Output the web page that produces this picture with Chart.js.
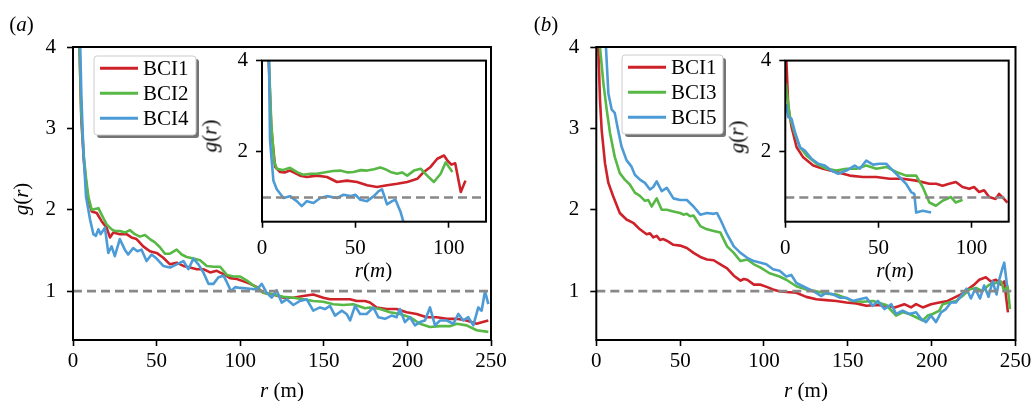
<!DOCTYPE html>
<html><head><meta charset="utf-8">
<script src="https://cdn.jsdelivr.net/npm/chart.js@4.4.1/dist/chart.umd.min.js"></script>
<style>
html,body{margin:0;padding:0;background:#fff;}
#wrap{position:relative;width:1036px;height:401px;overflow:hidden;background:#fff;font-family:'Liberation Serif','Times New Roman',serif;color:#000;}
canvas{position:absolute;}
.lbl{position:absolute;font-size:21px;line-height:1;white-space:nowrap;transform:translate(-50%,-50%);pointer-events:none;}
.rot{transform:translate(-50%,-50%) rotate(-90deg);}
</style></head><body>
<div id="wrap">
<canvas id="cA" width="518" height="401" style="left:0;top:0;width:518px;height:401px"></canvas>
<canvas id="cB" width="518" height="401" style="left:518px;top:0;width:518px;height:401px"></canvas>
<canvas id="iA" width="300" height="250" style="left:200px;top:40px;width:300px;height:250px"></canvas>
<canvas id="iB" width="310" height="250" style="left:720px;top:40px;width:310px;height:250px"></canvas>
<div class="lbl" style="left:21.5px;top:24px">(<i>a</i>)</div>
<div class="lbl" style="left:546px;top:24px">(<i>b</i>)</div>
<div class="lbl rot" style="left:20.5px;top:199px"><i>g</i>(<i>r</i>)</div>
<div class="lbl" style="left:282px;top:390px"><i>r</i> (m)</div>
<div class="lbl" style="left:806px;top:390px"><i>r</i> (m)</div>
<div class="lbl rot" style="left:210px;top:136px"><i>g</i>(<i>r</i>)</div>
<div class="lbl rot" style="left:737px;top:137px"><i>g</i>(<i>r</i>)</div>
<div class="lbl" style="left:373.5px;top:270px"><i>r</i>(<i>m</i>)</div>
<div class="lbl" style="left:895px;top:270px"><i>r</i>(<i>m</i>)</div>
</div>
<script>
// ---------------- DATA ----------------
const MAIN_X_TICKS = [0, 50, 100, 150, 200, 250];
const MAIN_Y_TICKS = [1, 2, 3, 4];
const INSET_X_TICKS = [0, 50, 100];
const INSET_Y_TICKS = [2, 4];

// Panel (a) main
const A_BCI1_r = [2,3.5,5,6.5,8,9.2,11.2,14.2,17.1,20.1,22.1,24.1,28,32,35,38,42,46,50,54,58,62,66,70,74,78,82,86,90,94,98,102,106,110,113.8,119.8,125.8,131.8,137.7,143.7,149.7,153.7,159.7,165.7,169.7,174.6,177.6,181.6,187.6,193.5,199.5,205.5,211.5,217.5,223.5,229.5,235.4,241.4,245,248.4];
const A_BCI1_g = [8,4.3,3.1,2.6,2.3,2.12,1.98,1.96,1.86,1.78,1.66,1.72,1.70,1.70,1.66,1.64,1.55,1.49,1.47,1.41,1.33,1.35,1.31,1.29,1.27,1.27,1.23,1.25,1.21,1.16,1.15,1.12,1.09,1.05,0.98,0.96,0.92,0.92,0.94,0.96,0.92,0.90,0.90,0.90,0.88,0.88,0.86,0.80,0.78,0.78,0.74,0.72,0.68,0.68,0.66,0.66,0.64,0.60,0.62,0.64];
const A_BCI2_r = [2,3.5,5,6.5,8,9.2,11.2,13.2,15.2,17.1,20.1,23.1,25,28,31,34,37,40,43,46,49,52,55,58,62,65,68,72,76,80,84,88,92,96,100,104,108,113.8,119.8,125.8,131.8,137.7,143.7,149.7,155.7,161.7,167.7,174.6,177.6,183.6,189.6,195.5,201.5,207.5,213.5,219.5,225.4,229.5,235.4,241.4,248.4];
const A_BCI2_g = [8,4.3,3.15,2.65,2.35,2.16,2.0,2.01,2.02,1.94,1.82,1.76,1.74,1.74,1.72,1.75,1.70,1.67,1.69,1.64,1.60,1.54,1.46,1.46,1.51,1.45,1.42,1.40,1.38,1.31,1.30,1.30,1.20,1.18,1.18,1.13,1.07,0.98,0.96,0.93,0.92,0.90,0.88,0.87,0.84,0.83,0.84,0.79,0.80,0.78,0.74,0.72,0.68,0.60,0.56,0.57,0.57,0.60,0.58,0.52,0.50];
const A_BCI4_r = [2.5,4,5,6.2,7.8,10.2,12.2,13.7,15.2,16.5,19.1,21.1,23.1,25,28,31,33,36,38.5,41,44,47,50,54,58,62,66,69,72,75,78,81,84,87,90,92,94.5,97,99.9,105.9,109.9,112.9,115.9,118.8,121.8,124.8,127.8,131.8,135.8,139.8,143.7,147.7,150.7,153.7,156.7,160.7,163.6,165.7,168.7,171.7,175.6,179.6,182.6,186.6,190.6,193.5,195.5,198.5,201.5,204.5,207.5,210.5,213.5,216.5,219.5,223.5,227.5,230.5,233.4,236.4,239.4,242.4,244.4,246.4,248.4];
const A_BCI4_g = [8,4.3,3.4,2.73,2.16,1.88,1.70,1.68,1.76,1.70,1.78,1.47,1.55,1.43,1.64,1.51,1.45,1.53,1.49,1.51,1.37,1.45,1.40,1.31,1.29,1.33,1.37,1.27,1.40,1.33,1.23,1.09,1.09,1.17,1.19,1.11,1.0,1.05,1.04,1.03,1.02,1.09,0.98,0.92,1.01,0.86,0.90,0.83,0.88,0.90,0.76,0.80,0.78,0.82,0.70,0.76,0.72,0.64,0.82,0.72,0.72,0.80,0.68,0.66,0.70,0.68,0.78,0.62,0.68,0.58,0.62,0.64,0.80,0.58,0.64,0.64,0.60,0.72,0.64,0.68,0.58,0.80,0.76,1.0,0.84];

// Panel (a) inset
const IA_BCI1_r = [2,3.4,5,7,9.7,12,15,18,20.4,24,29.4,34.8,40.2,45.5,50.9,56.3,61.6,67,72.4,77.8,83.2,86.7,90.3,93.9,97.5,99.5,101.5,103.5,106.5,109];
const IA_BCI1_g = [8,4.2,2.5,1.67,1.56,1.55,1.59,1.53,1.48,1.45,1.48,1.45,1.34,1.37,1.34,1.27,1.23,1.27,1.30,1.34,1.41,1.56,1.67,1.85,1.92,1.80,1.72,1.75,1.12,1.37];
const IA_BCI2_r = [2,3.5,5,6.5,7.9,11,15,19,22,26,29.4,34.8,38,41.9,46,49,53,56.3,60,63.4,66,68.8,72.4,75,77.8,81.4,85,88.5,92.1,95.7,98.4,102];
const IA_BCI2_g = [8,4.2,2.6,1.8,1.63,1.6,1.65,1.55,1.50,1.52,1.52,1.56,1.58,1.59,1.55,1.56,1.60,1.59,1.62,1.66,1.62,1.56,1.52,1.55,1.48,1.59,1.63,1.48,1.34,1.52,1.77,1.56];
const IA_BCI4_r = [2.5,4.3,6.1,7.9,11.5,15,18.6,21.3,24,27.6,31.2,34.8,40.2,43.7,47.3,50,52.7,56.3,59.9,62.5,64.3,67,69.7,71.5,74.2,76];
const IA_BCI4_g = [8,2.25,1.37,1.18,0.99,1.03,0.92,0.81,0.92,0.88,0.99,1.03,0.99,1.06,1.03,1.06,0.95,0.92,1.03,1.14,1.18,0.85,0.92,0.95,0.69,0.43];

// Panel (b) main
const B_BCI1_r = [0.5,1.2,2.2,3.2,5.2,7.2,10,14,18,22,26,30,32,34,36,38,40,42,46,50,54,58,62,66,70,74,78,82,86,88,90,94,98,102,105.4,109,113.3,119.3,125.2,131.2,137.1,143.1,149.1,155,161,167,173,178,183.7,187.7,190.7,194.7,199.6,204.6,209.5,213.5,217.5,221.4,225.4,228.4,232.3,235.3,238.3,241.3,243.3,245.5];
const B_BCI1_g = [6,4.0,3.35,2.98,2.57,2.33,2.17,1.96,1.88,1.84,1.76,1.70,1.71,1.66,1.68,1.63,1.64,1.62,1.57,1.56,1.53,1.47,1.42,1.39,1.38,1.33,1.28,1.19,1.13,1.15,1.14,1.08,1.08,1.05,1.02,1.0,0.99,0.98,0.93,0.90,0.89,0.88,0.86,0.85,0.82,0.83,0.82,0.80,0.84,0.80,0.84,0.80,0.84,0.86,0.88,0.92,0.96,1.02,1.08,1.14,1.17,1.12,1.14,1.08,1.12,0.74];
const B_BCI3_r = [1,2.2,4.2,6.2,8.2,11,14,17,20,23,26,29,31,33,36,39,42,46,50,52,54,56,58,62,66,70,74,78,82,86,90,94,98,103.3,109.3,113.3,119.3,125.2,131.2,137.1,143.1,147.1,153,159,165,172.9,178.8,182.7,186.7,190.7,194.7,197.6,200.6,204.6,206.6,210.5,214.5,218.4,222.4,226.4,230.3,234.3,238.3,241.3,243.3,245.3,246.7];
const B_BCI3_g = [6,4.0,3.56,3.23,2.94,2.65,2.45,2.37,2.31,2.21,2.17,2.11,2.12,2.04,2.14,2.0,2.0,1.98,1.96,1.94,1.95,1.92,1.93,1.80,1.76,1.74,1.72,1.55,1.47,1.37,1.39,1.33,1.29,1.22,1.18,1.14,1.06,1.02,1.0,0.97,0.96,0.93,0.88,0.87,0.88,0.83,0.70,0.74,0.72,0.68,0.64,0.70,0.72,0.76,0.84,0.86,0.88,0.94,1.02,1.04,1.0,1.08,1.10,1.12,1.0,1.06,0.78];
const B_BCI5_r = [4,5.5,7.2,9.2,11,13,15,18,21,23,26,29,32,34,36,39,42,46,50,54,58,62,66,70,72,74,78,82,86,90,94,98,101.4,105.4,109.3,113.3,116.3,119.3,123.2,127.2,131.2,134.2,137.1,141.1,145.1,149.1,153,157,161,164.9,167.9,171.9,175.9,178.8,182.7,186.7,190.7,193.7,196.6,199.6,202.6,205.6,208.5,211.5,214.5,217.5,220.8,223.4,226,228.8,231.3,233.9,236.3,238.7,240.3,242.3,243.3,245];
const B_BCI5_g = [6,4.1,3.43,3.23,3.19,2.98,2.78,2.61,2.53,2.43,2.37,2.33,2.25,2.28,2.35,2.23,2.27,2.14,2.12,2.12,2.04,1.94,1.96,1.95,1.96,1.88,1.70,1.55,1.47,1.41,1.37,1.35,1.33,1.27,1.25,1.18,1.2,1.10,1.06,1.02,0.98,0.94,0.98,0.96,0.92,0.92,0.88,0.90,0.92,0.82,0.88,0.78,0.84,0.72,0.76,0.72,0.74,0.66,0.62,0.70,0.62,0.74,0.78,0.86,0.86,0.94,1.03,0.91,1.03,0.91,1.07,0.93,1.12,0.96,1.14,1.29,1.35,1.06];

// Panel (b) inset
const IB_BCI1_r = [0.2,1.6,3.4,6.1,9.6,15,20.3,27.5,34.6,41.7,48.9,56,63.1,70.3,77.4,81,84.5,88,91.6,95.2,98.8,101.4,104.1,106.8,109.5,113,114.8,117.5,119.3];
const IB_BCI1_g = [4.4,2.98,2.54,2.10,1.88,1.70,1.63,1.56,1.48,1.45,1.45,1.41,1.41,1.37,1.30,1.30,1.26,1.30,1.34,1.23,1.19,1.23,1.12,1.16,1.01,0.97,1.08,0.97,0.89];
const IB_BCI3_r = [0.3,0.7,2.5,5.2,7.9,11.4,16.8,22.1,27.5,32.8,38.2,43.5,48.9,54.2,59.6,64.9,70.3,73.8,77.4,80.9,84.5,89,91.6,95.2];
const IB_BCI3_g = [3.5,3.34,2.76,2.39,2.10,1.92,1.74,1.63,1.59,1.63,1.63,1.70,1.63,1.67,1.56,1.48,1.48,1.23,0.89,0.82,0.93,1.01,0.89,0.95];
const IB_BCI5_r = [0.4,1.6,3.4,5.2,7.9,10.5,14.1,17.7,21.2,24.8,28.4,32.8,37.3,40,43.5,47.1,50.6,54.2,57.8,61.3,64.9,67.6,69.3,70.3,73.8,78.3];
const IB_BCI5_g = [3.05,2.76,2.72,2.43,2.10,2.03,1.85,1.74,1.70,1.59,1.52,1.59,1.70,1.63,1.81,1.72,1.74,1.74,1.59,1.45,1.30,1.12,1.08,0.67,0.71,0.67];

// ---------------- STYLE / HELPERS ----------------
const FONT = "'Liberation Serif', 'Times New Roman', serif";
const FSIZE = 21;
Chart.defaults.font.family = FONT;
Chart.defaults.font.size = FSIZE;
Chart.defaults.color = '#000';
const RED = '#cd2229', GREEN = '#57b846', BLUE = '#4c9bd6';
const LW = 2.6;

const pts = (r, g) => r.slice(0, Math.min(r.length, g.length)).map((x, i) => ({x: x, y: g[i]}));
function series(label, r, g, color, order) {
  return {label, data: pts(r, g), borderColor: color, backgroundColor: color, borderWidth: LW,
          pointRadius: 0, fill: false, tension: 0, clip: 0, order, borderJoinStyle: 'round'};
}
function refLine(xmax) {
  return {label: 'ref', data: [{x: 0, y: 1}, {x: xmax, y: 1}], borderColor: '#888888', borderWidth: 2.6,
          borderDash: [9, 5], pointRadius: 0, clip: 0, order: 0, legendHide: true};
}
function axis(min, max, ticks, fit, pad, tickLen) {
  return {
    type: 'linear', min, max,
    afterBuildTicks: a => { a.ticks = ticks.map(v => ({value: v})); },
    afterFit: fit,
    ticks: {autoSkip: false, maxRotation: 0, padding: pad, color: '#000', font: {family: FONT, size: FSIZE},
            callback: v => String(v)},
    grid: {display: true, drawOnChartArea: false, drawTicks: true, tickLength: tickLen, tickWidth: 1.6,
           tickColor: '#000', color: '#000'},
    border: {display: false}
  };
}
function roundRect(ctx, x, y, w, h, r) {
  ctx.beginPath();
  ctx.moveTo(x + r, y); ctx.lineTo(x + w - r, y); ctx.quadraticCurveTo(x + w, y, x + w, y + r);
  ctx.lineTo(x + w, y + h - r); ctx.quadraticCurveTo(x + w, y + h, x + w - r, y + h);
  ctx.lineTo(x + r, y + h); ctx.quadraticCurveTo(x, y + h, x, y + h - r);
  ctx.lineTo(x, y + r); ctx.quadraticCurveTo(x, y, x + r, y); ctx.closePath();
}
const framePlugin = {
  id: 'frame',
  beforeDraw(chart, args, o) {
    if (o && o.fill) {
      const a = chart.chartArea, ctx = chart.ctx;
      ctx.save(); ctx.fillStyle = '#fff'; ctx.fillRect(a.left, a.top, a.right - a.left, a.bottom - a.top); ctx.restore();
    }
  },
  afterDatasetsDraw(chart) {
    const a = chart.chartArea, ctx = chart.ctx;
    ctx.save(); ctx.strokeStyle = '#000'; ctx.lineWidth = 2;
    ctx.strokeRect(a.left, a.top, a.right - a.left, a.bottom - a.top); ctx.restore();
  }
};
const boxLegend = {
  id: 'boxLegend',
  afterDraw(chart, args, o) {
    if (!o || !o.show) return;
    const ctx = chart.ctx, a = chart.chartArea;
    const x = a.left + o.dx, y = a.top + o.dy, w = o.w, h = o.h;
    ctx.save();
    ctx.fillStyle = 'rgba(0,0,0,0.55)'; roundRect(ctx, x + 3, y + 3, w, h, 3); ctx.fill();
    ctx.fillStyle = '#fff'; roundRect(ctx, x, y, w, h, 3); ctx.fill();
    ctx.strokeStyle = '#cccccc'; ctx.lineWidth = 1; ctx.stroke();
    const items = chart.data.datasets.filter(d => !d.legendHide);
    items.forEach((d, i) => {
      const yy = y + o.row0 + i * o.rowH;
      ctx.strokeStyle = d.borderColor; ctx.lineWidth = 3;
      ctx.beginPath(); ctx.moveTo(x + 6, yy); ctx.lineTo(x + 44, yy); ctx.stroke();
      ctx.fillStyle = '#000'; ctx.font = FSIZE + 'px ' + FONT; ctx.textBaseline = 'middle'; ctx.textAlign = 'left';
      ctx.fillText(d.label, x + 49, yy + 1);
    });
    ctx.restore();
  }
};
function baseOptions(opt) {
  return {
    responsive: false, animation: false, events: [],
    layout: {padding: {left: 0, top: opt.top, right: opt.right, bottom: 0}},
    plugins: {legend: {display: false}, tooltip: {enabled: false},
              frame: {fill: !!opt.fill}, boxLegend: opt.legend || {show: false}},
    scales: {
      x: axis(0, opt.xmax, opt.xticks, s => { s.height = opt.xH; }, opt.xPad, opt.tickLen),
      y: axis(opt.ymin, 4, opt.yticks, s => { s.width = opt.yW; }, opt.yPad, opt.tickLen)
    }
  };
}
function make(id, datasets, opt) {
  return new Chart(document.getElementById(id), {
    type: 'line', data: {datasets}, options: baseOptions(opt), plugins: [framePlugin, boxLegend]
  });
}

// ---------------- CHARTS ----------------
make('cA', [
  series('BCI1', A_BCI1_r, A_BCI1_g, RED, 3),
  series('BCI2', A_BCI2_r, A_BCI2_g, GREEN, 2),
  series('BCI4', A_BCI4_r, A_BCI4_g, BLUE, 1),
  refLine(250)
], {top: 47, right: 27, xH: 61, yW: 73, xmax: 250, ymin: 0.4, xticks: MAIN_X_TICKS, yticks: MAIN_Y_TICKS,
    xPad: 3, yPad: 11, tickLen: 6,
    legend: {show: true, dx: 21, dy: 9, w: 102, h: 79, row0: 12.3, rowH: 25}});

make('cB', [
  series('BCI1', B_BCI1_r, B_BCI1_g, RED, 3),
  series('BCI3', B_BCI3_r, B_BCI3_g, GREEN, 2),
  series('BCI5', B_BCI5_r, B_BCI5_g, BLUE, 1),
  refLine(250)
], {top: 47, right: 20.5, xH: 61, yW: 78.3, xmax: 250, ymin: 0.4, xticks: MAIN_X_TICKS, yticks: MAIN_Y_TICKS,
    xPad: 3, yPad: 11, tickLen: 6,
    legend: {show: true, dx: 25.7, dy: 8, w: 101, h: 79, row0: 12.3, rowH: 25}});

make('iA', [
  series('BCI1', IA_BCI1_r, IA_BCI1_g, RED, 3),
  series('BCI2', IA_BCI2_r, IA_BCI2_g, GREEN, 2),
  series('BCI4', IA_BCI4_r, IA_BCI4_g, BLUE, 1),
  refLine(120)
], {top: 20, right: 14, xH: 68.3, yW: 62, xmax: 120, ymin: 0.47, xticks: INSET_X_TICKS, yticks: INSET_Y_TICKS,
    xPad: 8, yPad: 8, tickLen: 6, fill: true});

make('iB', [
  series('BCI1', IB_BCI1_r, IB_BCI1_g, RED, 3),
  series('BCI3', IB_BCI3_r, IB_BCI3_g, GREEN, 2),
  series('BCI5', IB_BCI5_r, IB_BCI5_g, BLUE, 1),
  refLine(120)
], {top: 20, right: 21.3, xH: 68.3, yW: 65.3, xmax: 120, ymin: 0.47, xticks: INSET_X_TICKS, yticks: INSET_Y_TICKS,
    xPad: 8, yPad: 8, tickLen: 6, fill: true});
</script>
</body></html>
